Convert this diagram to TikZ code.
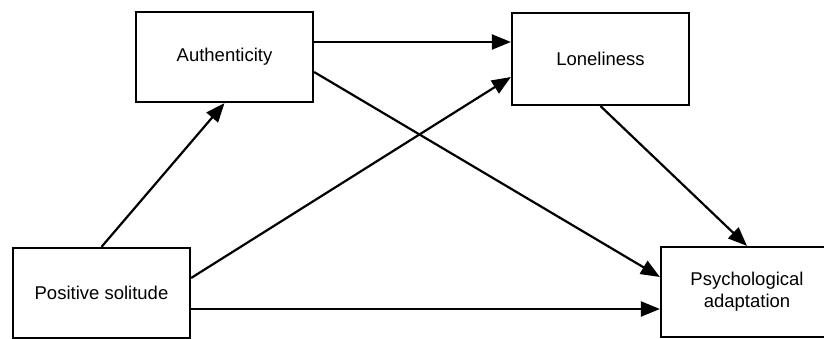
\documentclass[tikz,border=0pt]{standalone}
\usepackage{fontspec}
\setmainfont{Liberation Sans}
\usetikzlibrary{arrows.meta, positioning}
\tikzset{
  varbox/.style={draw=black, line width=2.2pt, fill=white, align=center,
    inner sep=0pt, font=\fontsize{18.5}{22}\selectfont},
  link/.style={line width=2.2pt, -{Triangle[length=19pt,width=15pt]}}
}

\begin{document}
\begin{tikzpicture}[x=1pt, y=-1pt]
\useasboundingbox (0,0) rectangle (824,339);
\clip (0,0) rectangle (824,339);
\node[varbox, minimum width=177pt, minimum height=90pt] (auth) at (224.5,57) {Authenticity};
\node[varbox, minimum width=177pt, minimum height=92pt] (lone) at (600.5,59) {Loneliness};
\node[varbox, minimum width=177pt, minimum height=90pt] (sol) at (101.5,293) {Positive solitude};
\node[varbox, minimum width=172pt, minimum height=90pt] (adapt) at (747,292) {Psychological\\adaptation};

\draw[link] ([yshift=15pt]auth.east) -- ([yshift=17pt]lone.west);
\draw[link] ([yshift=-15pt]auth.east) -- ([yshift=15pt]adapt.west);
\draw[link] (sol.north) -- (auth.south);
\draw[link] ([yshift=15pt]sol.east) -- ([yshift=-18pt]lone.west);
\draw[link] ([yshift=-16pt]sol.east) -- ([yshift=-17pt]adapt.west);
\draw[link] (lone.south) -- (adapt.north);
\end{tikzpicture}
\end{document}
